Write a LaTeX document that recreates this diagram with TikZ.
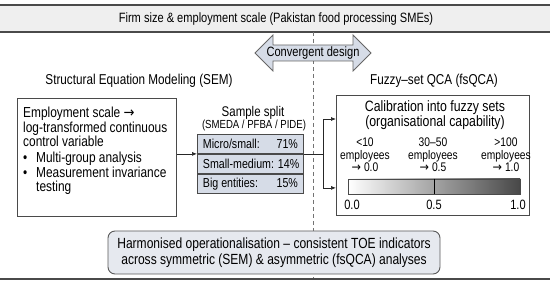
\documentclass[tikz,border=0pt]{standalone}
\usepackage{fontspec}
\setmainfont{Liberation Sans}[FakeStretch=0.82]
\newfontfamily\arrowfont{DejaVu Sans}[FakeStretch=0.9]
\usepackage{xcolor}
\usetikzlibrary{arrows.meta,calc,positioning}

\definecolor{bandgray}{HTML}{EFEFEF}
\definecolor{linegray}{HTML}{4A4A4A}
\definecolor{bluegray}{HTML}{D6DCE7}
\definecolor{paleblue}{HTML}{E6E9EF}
\newcommand{\rarr}{{\arrowfont →}}
\newcommand{\rowtext}[2]{\makebox[95pt][l]{#1\hfill #2}}

\begin{document}
\begin{tikzpicture}[x=1pt,y=-1pt,
    font=\fontsize{14.3}{15}\selectfont,
    panel/.style={draw=linegray, line width=0.9pt, fill=white, inner sep=0pt},
    cell/.style={draw=linegray, line width=0.9pt, fill=bluegray, minimum width=106pt,
        minimum height=19pt, inner xsep=5.5pt, inner ysep=0pt,
        font=\fontsize{13}{15}\selectfont},
    lbl/.style={align=center, font=\fontsize{12.5}{12.5}\selectfont},
    flow/.style={-{Latex[length=5pt,width=4pt]}, line width=0.7pt, draw=black!85}]

    \useasboundingbox (0,0) rectangle (550,283);

    % Band
    \fill[bandgray] (0,5) rectangle (550,32);
    \draw[linegray, line width=1.2pt] (0,5) -- (550,5);
    \draw[linegray, line width=1.2pt] (0,32) -- (550,32);
    \node[font=\fontsize{13.5}{15}\selectfont] (firm) at (276,19)
        {Firm size \& employment scale (Pakistan food processing SMEs)};

    % Divider
    \draw[black!55, line width=0.8pt, dash pattern=on 4pt off 3pt] (313,32) -- (313,279);

    % Convergent design
    \draw[fill=bluegray, draw=black!60, line width=0.8pt] (255,53) -- (273,35) -- (273,45)
        -- (353,45) -- (353,35) -- (371,53) -- (353,71) -- (353,61) -- (273,61) -- (273,71) -- cycle;
    \node[font=\fontsize{13.5}{15}\selectfont] (conv) at (313,53) {Convergent design};

    % Headings
    \node (sem) at (139,81) {Structural Equation Modeling (SEM)};
    \node (fsqca) at (434,81) {Fuzzy–set QCA (fsQCA)};

    % SEM side
    \node[panel, minimum width=159pt, minimum height=118pt, anchor=north west] (scalebox) at (17,98) {};
    \node[anchor=north west, align=left, inner sep=0pt, font=\fontsize{14.5}{14.5}\selectfont]
        (scaletext) at (23,107) {Employment scale \rarr\\
        log-transformed continuous\\
        control variable\\[1.5pt]
        \makebox[13pt][l]{•}Multi-group analysis\\
        \makebox[13pt][l]{•}Measurement invariance\\
        \hspace*{13pt}testing};

    % Sample split
    \node[font=\fontsize{14}{15}\selectfont] (split) at (253,113) {Sample split};
    \node[font=\fontsize{11.7}{12}\selectfont] (src) at (254,125) {(SMEDA / PFBA / PIDE)};
    \node[cell, anchor=north west] (micro) at (197,134) {\rowtext{Micro/small:}{71\%}};
    \node[cell, below=0pt of micro] (smallmed) {\rowtext{Small-medium: }{14\%}};
    \node[cell, below=0pt of smallmed] (big) {\rowtext{Big entities:}{15\%}};

    % fsQCA side
    \node[panel, minimum width=193pt, minimum height=120pt, anchor=north west] (calbox) at (336,95) {};
    \node[align=center, font=\fontsize{15}{15}\selectfont] (caltitle) at (435,115)
        {Calibration into fuzzy sets\\(organisational capability)};
    \node[lbl] (low) at (365,155) {<10\\employees\\\rarr\ 0.0};
    \node[lbl] (mid) at (433,155) {30–50\\employees\\\rarr\ 0.5};
    \node[lbl] (high) at (506,155) {>100\\employees\\\rarr\ 1.0};
    \node[draw=linegray, line width=0.8pt, minimum width=172pt, minimum height=15pt, inner sep=0pt,
        left color=white, right color=black!72] (bar) at (434,186.5) {};
    \draw[line width=0.8pt] (bar.north) -- (bar.south);
    \node[font=\fontsize{13.5}{15}\selectfont] (zero) at (352,205) {0.0};
    \node[font=\fontsize{13.5}{15}\selectfont] (half) at (434,205) {0.5};
    \node[font=\fontsize{13.5}{15}\selectfont] (one) at (518,205) {1.0};

    % Connectors
    \draw[flow] (scalebox.east |- micro.south) -- (micro.south west);
    \coordinate (fork) at ($(micro.south east)+(19,0)$);
    \draw[line width=0.7pt, draw=black!85] (micro.south east) -- (fork);
    \draw[flow] (fork) |- ($(calbox.north west)+(0,24)$);
    \draw[flow] (fork) |- ($(calbox.south west)+(0,-28)$);

    % Harmonised
    \node[draw=black!65, line width=0.9pt, fill=paleblue, rounded corners=7pt, minimum width=332pt,
        minimum height=43pt, align=center, font=\fontsize{14.7}{16.5}\selectfont] (harm) at (274,252.5)
        {Harmonised operationalisation – consistent TOE indicators\\
        across symmetric (SEM) \& asymmetric (fsQCA) analyses};

    \draw[linegray, line width=1.2pt] (0,279) -- (550,279);

\end{tikzpicture}
\end{document}
